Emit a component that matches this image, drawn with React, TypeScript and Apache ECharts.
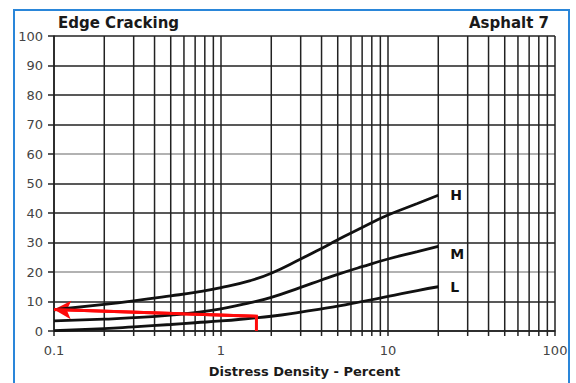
import React, { useEffect, useRef } from "react";
import * as echarts from "echarts";

const xDensity = [0.1, 0.2, 0.3, 0.5, 0.7, 1, 1.5, 2, 3, 4, 5, 7, 10, 15, 20];
const highValues = [7.2, 9.0, 10.2, 11.9, 13.1, 14.7, 17.1, 19.6, 24.4, 28.0, 30.9, 35.1, 39.3, 43.2, 46.0];
const mediumValues = [3.4, 4.0, 4.5, 5.4, 6.2, 7.5, 9.6, 11.4, 14.8, 17.3, 19.2, 21.8, 24.4, 26.9, 28.7];
const lowValues = [0.1, 0.8, 1.4, 2.2, 2.8, 3.4, 4.3, 5.0, 6.4, 7.5, 8.4, 10.0, 11.7, 13.7, 15.0];
const minorTicks = [0.2, 0.3, 0.4, 0.5, 0.6, 0.7, 0.8, 0.9, 2, 3, 4, 5, 6, 7, 8, 9, 20, 30, 40, 50, 60, 70, 80, 90];
const arrowPath = [[1.63, 0], [1.63, 5], [0.1, 7.3]];
const xTickLabels = ["0.1", "1", "10", "100"];
const seriesNames = ["H", "M", "L"];

const FONT = "DejaVu Sans";

export default function App() {
  const ref = useRef<HTMLDivElement>(null);
  useEffect(() => {
    if (!ref.current) return;
    const chart = echarts.init(ref.current, null, { renderer: "svg" });
    const mk = (vals: number[]) => xDensity.map((x, i) => [x, vals[i]]);
    const curve = (name: string, vals: number[], offset: number[]) => ({
      name,
      type: "line",
      data: mk(vals),
      smooth: 0.5,
      showSymbol: false,
      symbol: "none",
      lineStyle: { color: "#111", width: 2.8 },
      z: 5,
      endLabel: {
        show: true,
        formatter: name,
        fontFamily: FONT,
        fontWeight: "bold",
        fontSize: 14,
        color: "#111",
        distance: 12,
        offset,
      },
    });
    chart.setOption({
      animation: false,
      backgroundColor: "#fff",
      title: [
        { text: "Edge Cracking", left: 53, top: 10, textStyle: { fontFamily: FONT, fontWeight: "bold", fontSize: 15, color: "#1a1a1a" } },
        { text: "Asphalt 7", right: 22, top: 10, textStyle: { fontFamily: FONT, fontWeight: "bold", fontSize: 15, color: "#1a1a1a" } },
      ],
      grid: { left: 54, right: 21, top: 36, bottom: 48, containLabel: false },
      xAxis: {
        type: "log",
        logBase: 10,
        min: 0.1,
        max: 100,
        name: "Distress Density - Percent",
        nameLocation: "middle",
        nameGap: 34,
        nameTextStyle: { fontFamily: FONT, fontWeight: "bold", fontSize: 13, color: "#1a1a1a" },
        axisLine: { show: true, lineStyle: { color: "#222", width: 1.5 } },
        axisTick: { show: true, length: 5, lineStyle: { color: "#222", width: 1.5 } },
        axisLabel: {
          fontFamily: FONT,
          fontSize: 13,
          color: "#444",
          margin: 13,
          formatter: (v: number) => {
            const idx = Math.round(Math.log10(v) + 1);
            return xTickLabels[idx] ?? String(v);
          },
        },
        splitLine: { show: true, lineStyle: { color: "#222", width: 1.5 } },
      },
      yAxis: {
        type: "value",
        min: 0,
        max: 100,
        interval: 10,
        axisLine: { show: true, lineStyle: { color: "#222", width: 1.5 } },
        axisTick: { show: true, length: 6, lineStyle: { color: "#222", width: 1.5 } },
        axisLabel: { fontFamily: FONT, fontSize: 13, color: "#444", margin: 11 },
        splitLine: {
          show: true,
          lineStyle: {
            color: ["#222", "#222", "#999", "#222", "#222", "#222", "#999", "#222", "#222", "#222", "#222"],
            width: 1.5,
          },
        },
      },
      graphic: [
        {
          type: "rect",
          shape: { x: 14, y: 10, width: 555, height: 400 },
          style: { fill: "none", stroke: "#2a86d9", lineWidth: 2 },
          z: 100,
        },
      ],
      series: [
        {
          type: "custom",
          data: minorTicks.map((v) => [v, 0]),
          clip: false,
          silent: true,
          z: 1,
          renderItem: (_p: any, api: any) => {
            const v = api.value(0);
            const top = api.coord([v, 100]);
            const bot = api.coord([v, 0]);
            return {
              type: "line",
              shape: { x1: top[0], y1: top[1], x2: bot[0], y2: bot[1] + 5 },
              style: { stroke: "#222", lineWidth: 1.5 },
            };
          },
        },
        curve(seriesNames[0], highValues, [0, 0]),
        curve(seriesNames[1], mediumValues, [0, 8]),
        curve(seriesNames[2], lowValues, [0, 0]),
        {
          type: "line",
          data: arrowPath,
          showSymbol: false,
          symbol: "none",
          lineStyle: { color: "#ff0a0a", width: 3, join: "miter" },
          z: 6,
          markLine: {
            silent: true,
            symbol: ["none", "arrow"],
            symbolSize: [14, 17],
            label: { show: false },
            lineStyle: { color: "#ff0a0a", width: 3, type: "solid" },
            data: [[{ coord: arrowPath[1] }, { coord: arrowPath[2] }]],
          },
        },
      ],
    });
    return () => chart.dispose();
  }, []);
  return <div ref={ref} style={{ position: "fixed", left: 0, top: 0, width: 576, height: 383 }} />;
}
